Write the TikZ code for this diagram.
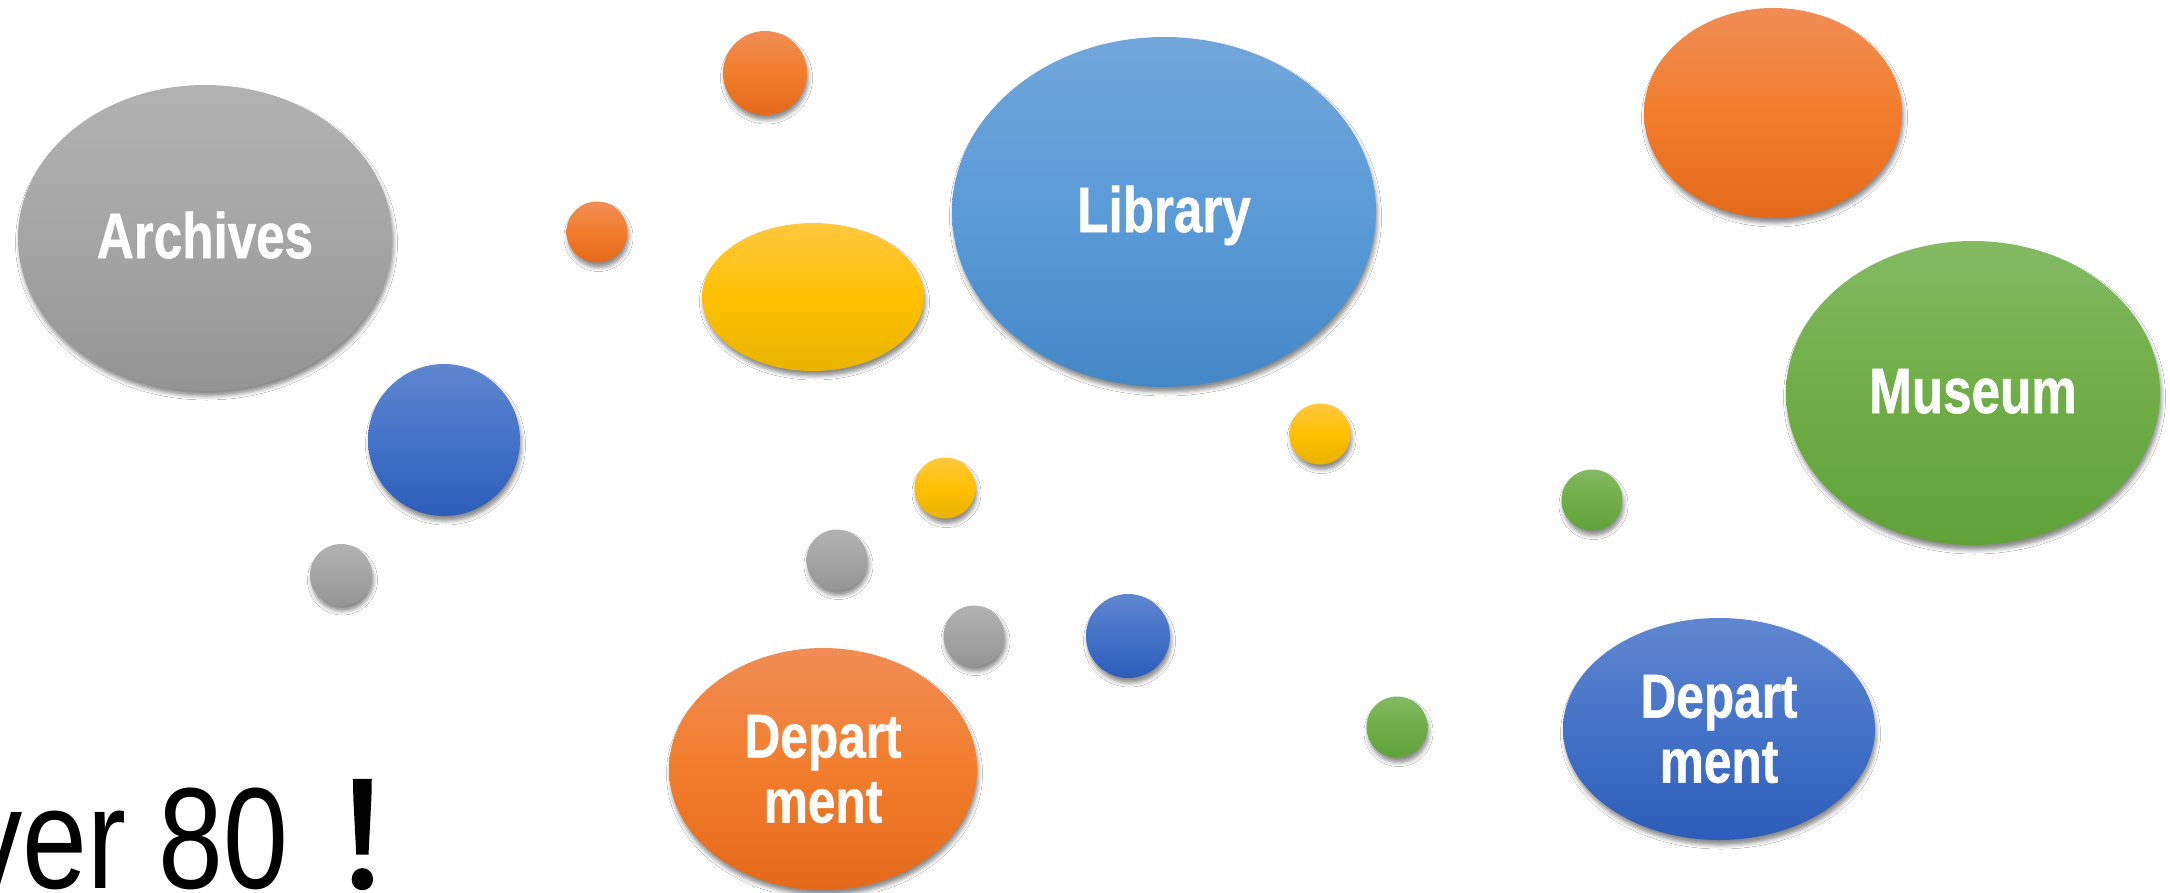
\documentclass[tikz,border=0pt]{standalone}
\usepackage{fontspec}
\setmainfont{Liberation Sans}
\newfontfamily\lblfont[FakeStretch=0.8,FakeBold=0.8]{Liberation Sans}
\newfontfamily\bigfont[FakeStretch=0.81]{Liberation Sans}
\newfontfamily\cjkfont[FakeBold=2]{Noto Sans CJK SC}
\usetikzlibrary{shapes.geometric,shadows.blur}
\definecolor{grayT}{HTML}{B2B2B2}
\definecolor{grayM}{HTML}{A5A5A5}
\definecolor{grayB}{HTML}{949494}
\definecolor{blueT}{HTML}{6086CF}
\definecolor{blueM}{HTML}{4472C8}
\definecolor{blueB}{HTML}{2D5DB9}
\definecolor{lblueT}{HTML}{71A6DA}
\definecolor{lblueM}{HTML}{5B9BD8}
\definecolor{lblueB}{HTML}{4487C7}
\definecolor{orangeT}{HTML}{F08D56}
\definecolor{orangeM}{HTML}{F27D2C}
\definecolor{orangeB}{HTML}{E4691A}
\definecolor{yellowT}{HTML}{FFC83F}
\definecolor{yellowM}{HTML}{FFC000}
\definecolor{yellowB}{HTML}{E9B300}
\definecolor{greenT}{HTML}{83BA63}
\definecolor{greenM}{HTML}{70AD47}
\definecolor{greenB}{HTML}{60A239}
\tikzset{
  blob/.style={ellipse, inner sep=0pt, outer sep=0pt, draw=none,
    blur shadow={shadow xshift=1.5pt, shadow yshift=-5pt, shadow blur radius=4pt, shadow opacity=45}},
  sz/.style 2 args={minimum width=#1pt, minimum height=#2pt},
  fgray/.style={blob, top color=grayT, bottom color=grayB, middle color=grayM},
  fblue/.style={blob, top color=blueT, bottom color=blueB, middle color=blueM},
  flblue/.style={blob, top color=lblueT, bottom color=lblueB, middle color=lblueM},
  forange/.style={blob, top color=orangeT, bottom color=orangeB, middle color=orangeM},
  fyellow/.style={blob, top color=yellowT, bottom color=yellowB, middle color=yellowM},
  fgreen/.style={blob, top color=greenT, bottom color=greenB, middle color=greenM},
  lbl/.style={text=white, font=\lblfont\bfseries\fontsize{64}{66}\selectfont, text height=40pt, text depth=0pt},
  lbltwo/.style={text=white, font=\lblfont\bfseries\fontsize{62}{65}\selectfont, align=center},
}
\begin{document}
\begin{tikzpicture}[x=1pt,y=-1pt]
\useasboundingbox (0,0) rectangle (2170,892);
\fill[white] (0,0) rectangle (2170,892);
\clip (0,0) rectangle (2170,892);
% large labelled ellipses
\node[fgray, sz={374}{306}, lbl] (archives) at (205,238) {Archives};
\node[flblue, sz={424}{350}, lbl] (library) at (1164,212) {Library};
\node[fgreen, sz={374}{304}, lbl] (museum) at (1973,393) {Museum};
\node[forange, sz={308}{242}, lbltwo] (deptA) at (823,769) {Depart\\ment};
\node[fblue, sz={312}{222}, lbltwo] (deptB) at (1719,729) {Depart\\ment};
% unlabelled ellipses
\node[fyellow, sz={222}{148}] (yellowE) at (813,297) {};
\node[forange, sz={258}{210}] (orangeE) at (1773,113) {};
% circles
\node[fblue, sz={152}{152}] (blueC1) at (444,440) {};
\node[fgray, sz={62}{62}] (grayC1) at (341,575) {};
\node[forange, sz={84}{84}] (orangeC1) at (765,73) {};
\node[forange, sz={61}{61}] (orangeC2) at (597,232) {};
\node[fyellow, sz={61}{61}] (yellowC1) at (1320,434) {};
\node[fyellow, sz={61}{61}] (yellowC2) at (945,488) {};
\node[fgray, sz={61}{61}] (grayC2) at (837,560) {};
\node[fgray, sz={61}{61}] (grayC3) at (974,636) {};
\node[fblue, sz={84}{84}] (blueC2) at (1128,636) {};
\node[fgreen, sz={61}{61}] (greenC1) at (1397,727) {};
\node[fgreen, sz={61}{61}] (greenC2) at (1592,500) {};
% bottom text
\node[anchor=base west, inner sep=0pt, font=\bigfont\fontsize{144}{150}\selectfont] (over) at (-36,888) {ver 80\hspace{38pt}{\cjkfont ！}};
\end{tikzpicture}
\end{document}
